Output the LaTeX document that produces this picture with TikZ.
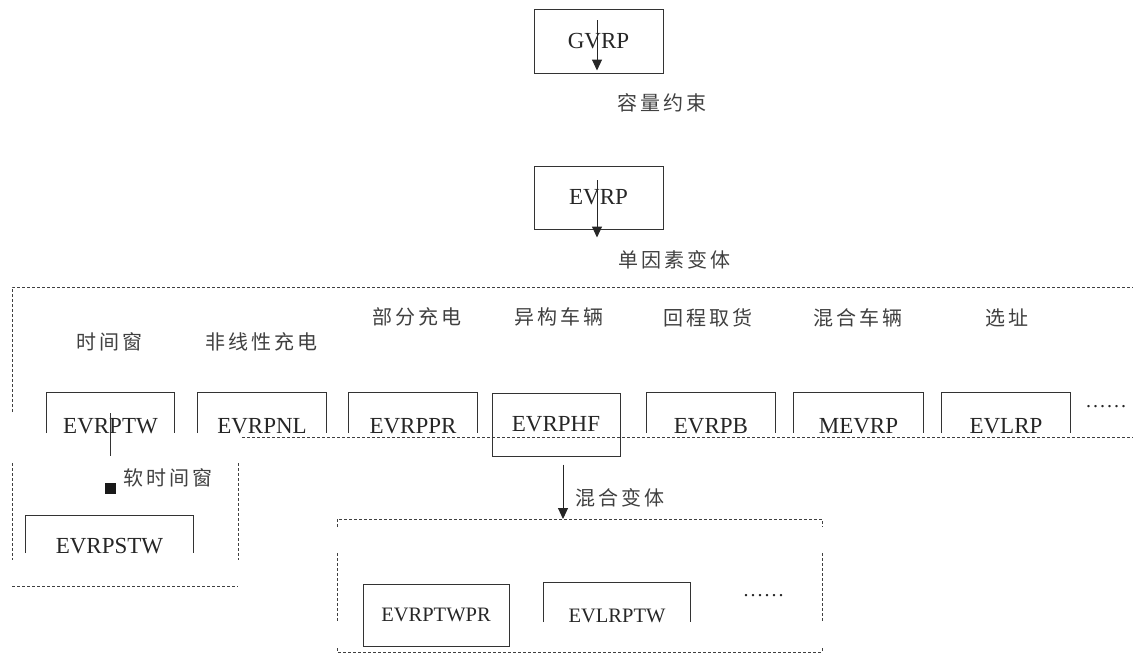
\documentclass[tikz,border=0pt]{standalone}
\usepackage{fontspec}
\setmainfont{Liberation Serif}
\newfontfamily\cjk[LetterSpace=15]{Noto Sans CJK SC}
\newfontfamily\dotfont[LetterSpace=10]{Liberation Serif}
\usetikzlibrary{arrows.meta}
\begin{document}
\begin{tikzpicture}[x=1pt,y=-1pt,
  every node/.style={text=black!85, inner sep=0pt},
  boxline/.style={draw=black!80, line width=1pt},
  fullbox/.style={boxline, minimum width=128pt, minimum height=63pt, font=\fontsize{23}{23}\selectfont},
  openbox/.style={minimum width=127pt, text height=40pt, text depth=0pt, inner sep=0pt, font=\fontsize{23}{23}\selectfont},
  lab/.style={font=\cjk\fontsize{20}{20}\selectfont, text=black!75},
  dotslab/.style={font=\dotfont\fontsize{20}{20}\selectfont},
  dots/.style={draw=black!75, line width=0.9pt, dash pattern=on 3pt off 2pt},
  arr/.style={draw=black!85, line width=1pt, -{Triangle[length=11pt,width=10pt]}}]
\useasboundingbox (0,0) rectangle (1133,659);

% top chain
\node[fullbox, minimum width=129pt, minimum height=64pt] (gvrp) at (598.5,41) {GVRP};
\draw[arr] ([shift={(-1.5,-21)}]gvrp.center) -- ([shift={(-1.5,-3)}]gvrp.south);
\node[lab] (cap) at (662,103) {容量约束};

\node[fullbox, minimum width=129pt] (evrp) at (598.5,197.5) {EVRP};
\draw[arr] ([shift={(-1.5,-17.5)}]evrp.center) -- ([shift={(-1.5,8)}]evrp.south);
\node[lab] (single) at (674,260) {单因素变体};

% big dotted region
\draw[dots] (12,412) -- (12,287) -- (1133,287);
\draw[dots] (242,437) -- (1133,437);

% factor labels
\node[lab] (l1) at (109,342) {时间窗};
\node[lab] (l2) at (261,342) {非线性充电};
\node[lab] (l3) at (417,317) {部分充电};
\node[lab] (l4) at (559,317) {异构车辆};
\node[lab] (l5) at (708,318) {回程取货};
\node[lab] (l6) at (858,318) {混合车辆};
\node[lab] (l7) at (1007,318) {选址};

% variant boxes
\node[openbox] (tw) at (110.5,413) {EVRPTW};
\node[openbox, minimum width=128pt] (nl) at (262,413) {EVRPNL};
\node[openbox, minimum width=128pt] (pr) at (413,413) {EVRPPR};
\node[fullbox] (hf) at (556,424.5) {EVRPHF};
\node[openbox, minimum width=128pt] (pb) at (711,413) {EVRPB};
\node[openbox, minimum width=129pt] (me) at (858.5,413) {MEVRP};
\node[openbox, minimum width=128pt] (lr) at (1006,413) {EVLRP};
\foreach \n in {tw,nl,pr,pb,me,lr}
  \draw[boxline] (\n.south west) |- (\n.north east) -- (\n.south east);
\node[dotslab] (d1) at (1106,407) {......};

% soft time window
\coordinate (swtop) at (110.5,456);
\draw[boxline] (tw.center) -- (swtop);
\node[fill=black!90, minimum size=11pt] (sq) at (110.5,488.5) {};
\node[lab] (soft) at (168,478) {软时间窗};
\draw[dots] (12,463) -- (12,560);
\draw[dots] (238,463) -- (238,560);
\draw[dots] (12,586) -- (238,586);
\node[openbox, minimum width=167pt, text height=37pt] (stw) at (109.5,534.5) {EVRPSTW};
\draw[boxline] (stw.south west) |- (stw.north east) -- (stw.south east);

% mixed variants
\coordinate (mtop) at (563,519);
\draw[arr] ([shift={(7,8)}]hf.south) -- (mtop);
\node[lab] (mixed) at (620,498) {混合变体};
\draw[dots] (337,527) -- (337,519) -- (822,519) -- (822,527);
\draw[dots] (337,553) -- (337,622);
\draw[dots] (822,553) -- (822,622);
\draw[dots] (337,648) -- (337,652) -- (822,652) -- (822,648);
\node[fullbox, minimum width=146pt, minimum height=62pt, font=\fontsize{20.5}{20.5}\selectfont] (twpr) at (436,615) {EVRPTWPR};
\node[openbox, minimum width=146pt, text height=39pt, font=\fontsize{20.5}{20.5}\selectfont] (lrtw) at (617,602.5) {EVLRPTW};
\draw[boxline] (lrtw.south west) |- (lrtw.north east) -- (lrtw.south east);
\node[dotslab] (d2) at (763.5,596) {......};
\end{tikzpicture}
\end{document}
